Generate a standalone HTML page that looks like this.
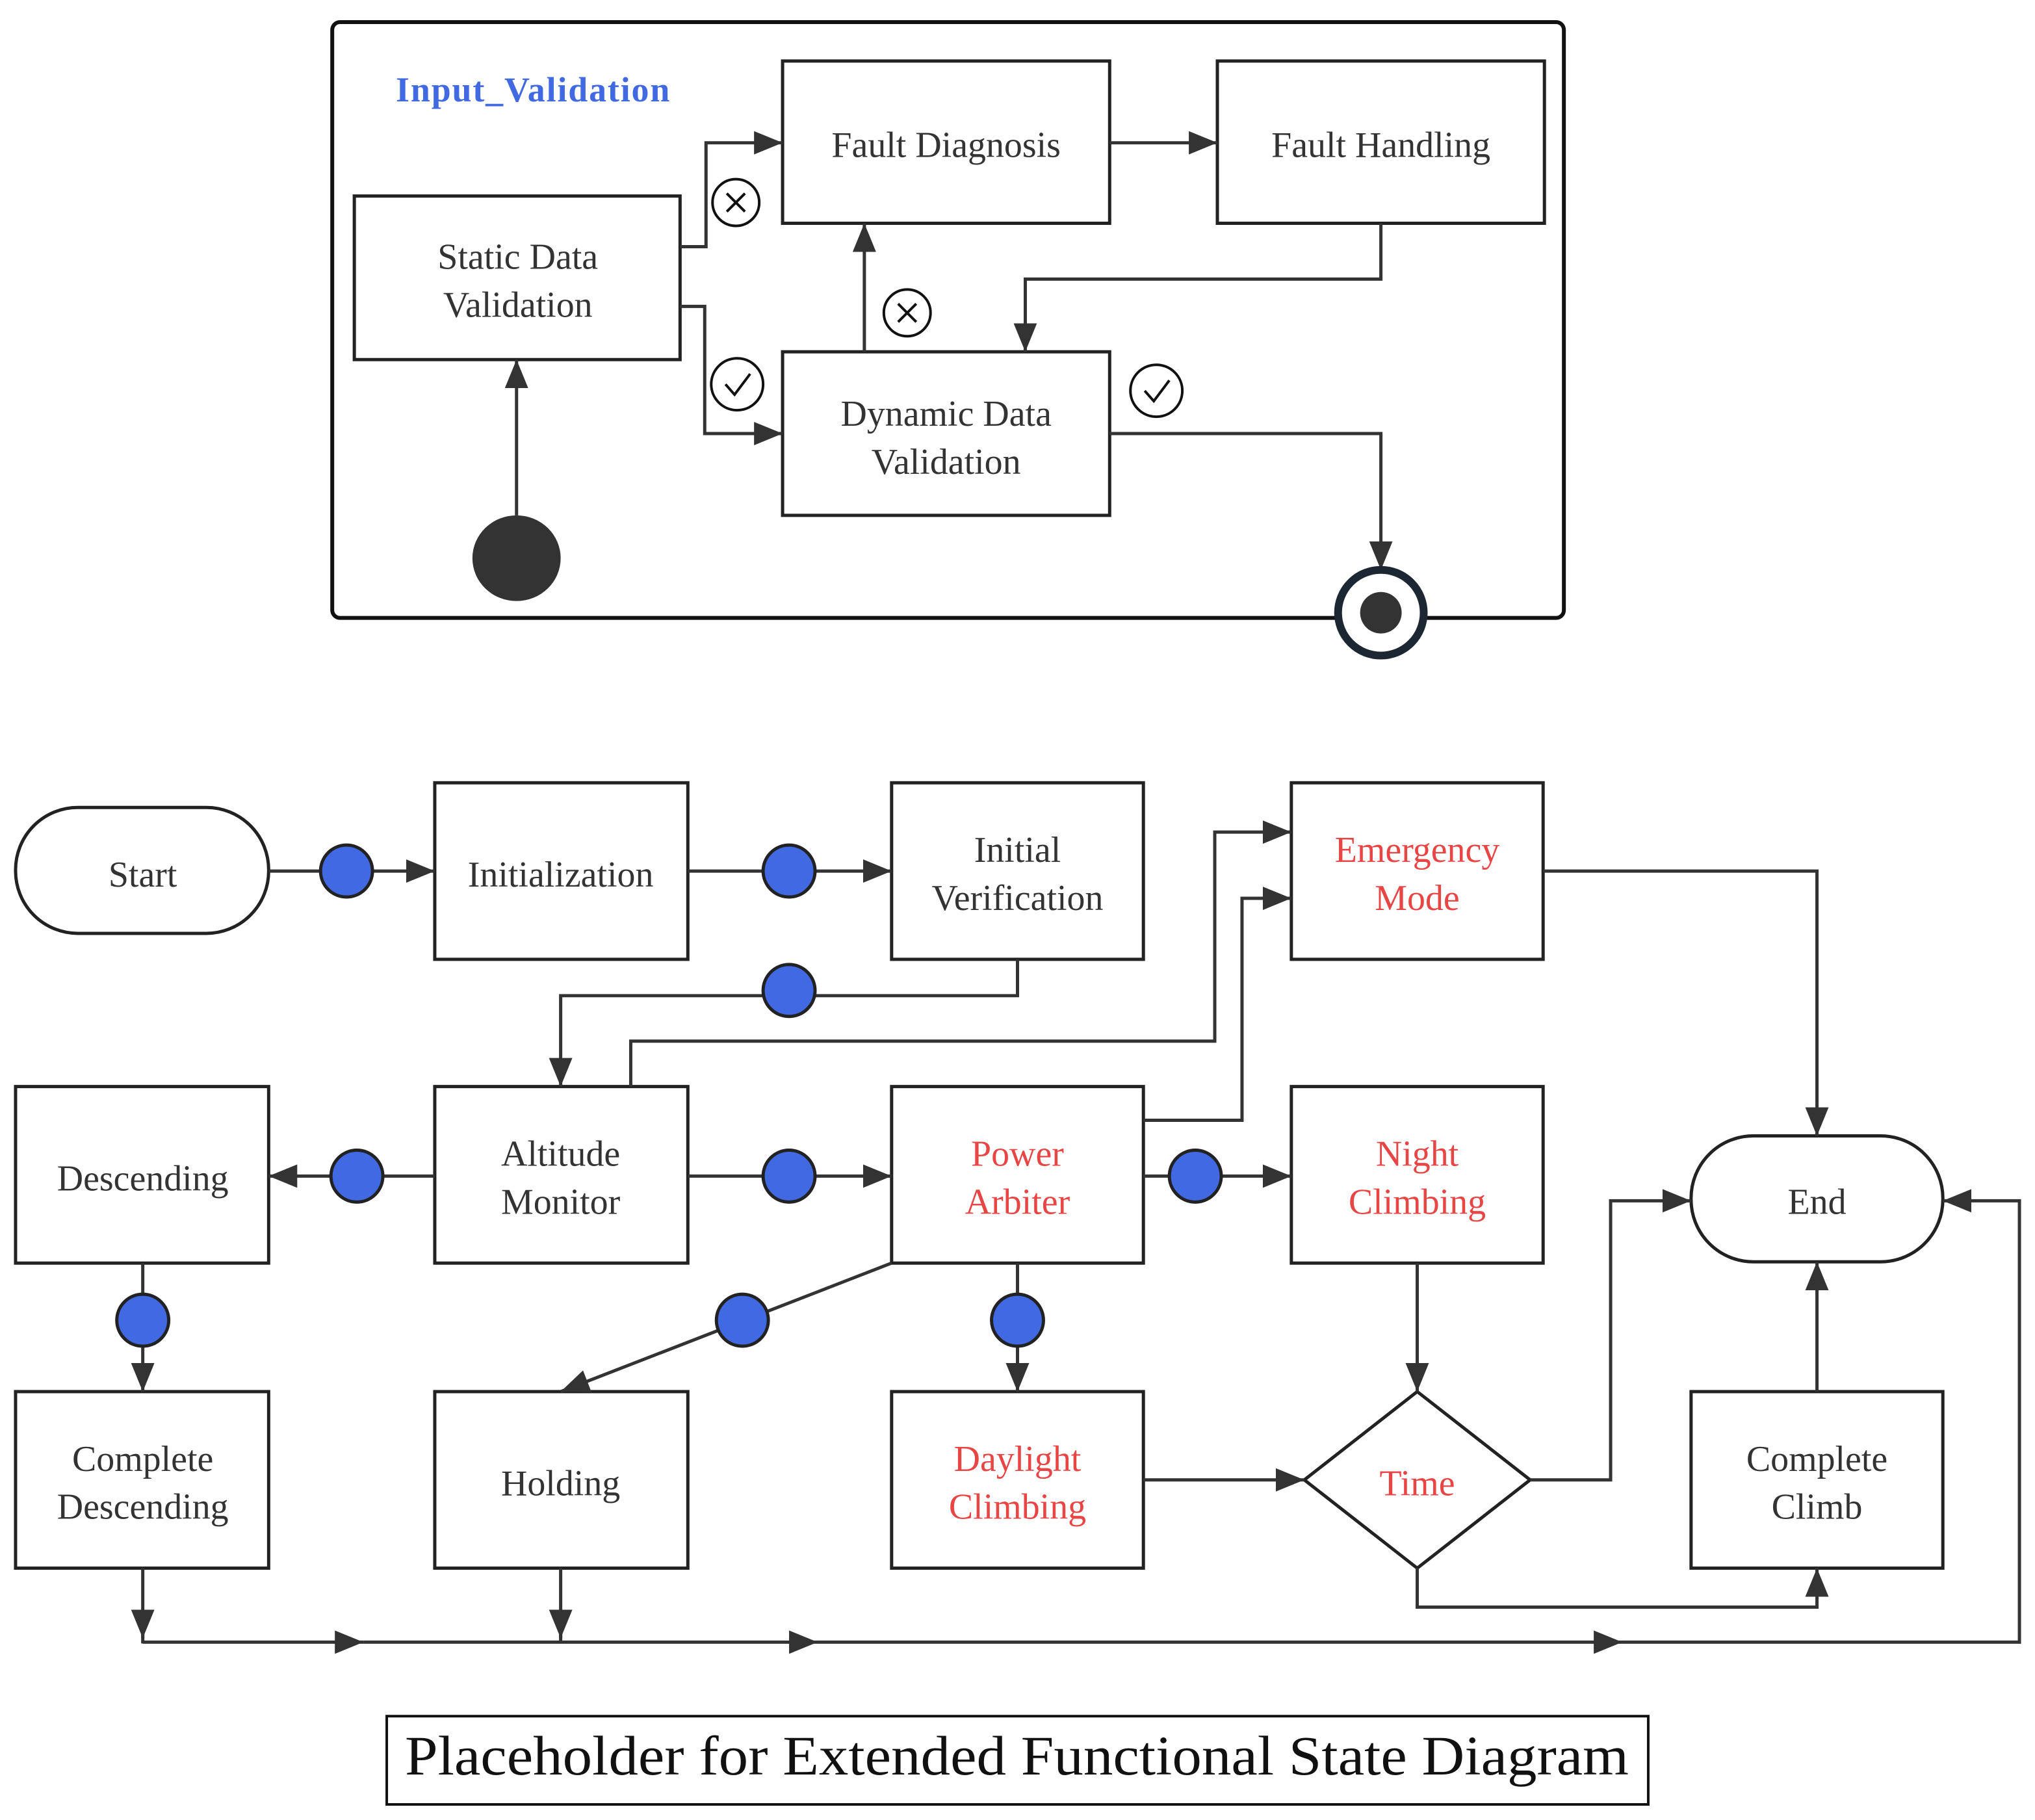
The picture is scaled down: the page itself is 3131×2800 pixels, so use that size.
<!DOCTYPE html>
<html><head><meta charset="utf-8"><style>
html,body{margin:0;padding:0;background:#fff}
svg{display:block}
</style></head><body>
<svg width="3131" height="2800" viewBox="0 0 1568 1402" preserveAspectRatio="none" xmlns="http://www.w3.org/2000/svg" font-family="Liberation Serif, DejaVu Serif, serif">
<defs>
<marker id="a" markerUnits="userSpaceOnUse" markerWidth="24" markerHeight="18" refX="22" refY="9" orient="auto">
<path d="M0,0 L22,9 L0,18 z" fill="#333"/>
</marker>
</defs>
<rect width="1568" height="1402" fill="#fff"/>
<rect x="256" y="17" width="949" height="459" rx="6" fill="none" stroke="#111" stroke-width="3"/>
<text x="305" y="78" font-size="27" font-weight="bold" fill="#4169E1" textLength="211">Input_Validation</text>
<g fill="#fff" stroke="#222" stroke-width="2.5">
<rect x="603" y="47" width="252" height="125"/>
<rect x="938" y="47" width="252" height="125"/>
<rect x="273" y="151" width="251" height="126"/>
<rect x="603" y="271" width="252" height="126"/>
</g>
<g font-size="28" fill="#333" text-anchor="middle">
<text x="729" y="121">Fault Diagnosis</text>
<text x="1064" y="121">Fault Handling</text>
<text x="399" y="207">Static Data</text><text x="399" y="244">Validation</text>
<text x="729" y="328">Dynamic Data</text><text x="729" y="365">Validation</text>
</g>
<g fill="none" stroke="#333" stroke-width="2.5">
<path d="M524,190 H544 V110 H603" marker-end="url(#a)"/>
<path d="M524,236 H543 V334 H603" marker-end="url(#a)"/>
<path d="M666,271 V172" marker-end="url(#a)"/>
<path d="M855,110 H938" marker-end="url(#a)"/>
<path d="M1064,172 V215 H790 V271" marker-end="url(#a)"/>
<path d="M855,334 H1064 V439" marker-end="url(#a)"/>
<path d="M398,397 V277" marker-end="url(#a)"/>
</g>
<g fill="#fff" stroke="#111" stroke-width="2">
<circle cx="567" cy="156" r="18"/><circle cx="568" cy="296" r="20"/>
<circle cx="699" cy="241" r="18"/><circle cx="891" cy="301" r="20"/>
</g>
<g fill="none" stroke="#111" stroke-width="2">
<path d="M560,149 L574,163 M574,149 L560,163"/>
<path d="M692,234 L706,248 M706,234 L692,248"/>
<path d="M559,296 L566,304 L578,288"/>
<path d="M882,301 L889,309 L901,293"/>
</g>
<ellipse cx="398" cy="430" rx="34" ry="33" fill="#333"/>
<circle cx="1064" cy="472" r="33" fill="#fff" stroke="#1c2733" stroke-width="6"/>
<circle cx="1064" cy="472" r="16" fill="#333"/>

<g fill="#fff" stroke="#222" stroke-width="2.5">
<rect x="12" y="622" width="195" height="97" rx="48"/>
<rect x="335" y="603" width="195" height="136"/>
<rect x="687" y="603" width="194" height="136"/>
<rect x="995" y="603" width="194" height="136"/>
<rect x="12" y="837" width="195" height="136"/>
<rect x="335" y="837" width="195" height="136"/>
<rect x="687" y="837" width="194" height="136"/>
<rect x="995" y="837" width="194" height="136"/>
<rect x="1303" y="875" width="194" height="97" rx="48"/>
<rect x="12" y="1072" width="195" height="136"/>
<rect x="335" y="1072" width="195" height="136"/>
<rect x="687" y="1072" width="194" height="136"/>
<rect x="1303" y="1072" width="194" height="136"/>
<path d="M1092,1072 L1179,1140 L1092,1208 L1005,1140 Z"/>
</g>
<g font-size="28" fill="#333" text-anchor="middle">
<text x="110" y="683">Start</text>
<text x="432" y="683">Initialization</text>
<text x="784" y="664">Initial</text><text x="784" y="701">Verification</text>
<text x="110" y="917">Descending</text>
<text x="432" y="898">Altitude</text><text x="432" y="935">Monitor</text>
<text x="1400" y="935">End</text>
<text x="110" y="1133">Complete</text><text x="110" y="1170">Descending</text>
<text x="432" y="1152">Holding</text>
<text x="1400" y="1133">Complete</text><text x="1400" y="1170">Climb</text>
</g>
<g font-size="28" fill="#e84545" text-anchor="middle">
<text x="1092" y="664">Emergency</text><text x="1092" y="701">Mode</text>
<text x="784" y="898">Power</text><text x="784" y="935">Arbiter</text>
<text x="1092" y="898">Night</text><text x="1092" y="935">Climbing</text>
<text x="784" y="1133">Daylight</text><text x="784" y="1170">Climbing</text>
<text x="1092" y="1152">Time</text>
</g>
<g fill="none" stroke="#333" stroke-width="2.5">
<path d="M207,671 H335" marker-end="url(#a)"/>
<path d="M530,671 H687" marker-end="url(#a)"/>
<path d="M784,739 V767 H432 V837" marker-end="url(#a)"/>
<path d="M486,837 V802 H936 V641 H995" marker-end="url(#a)"/>
<path d="M881,863 H957 V692 H995" marker-end="url(#a)"/>
<path d="M335,906 H207" marker-end="url(#a)"/>
<path d="M530,906 H687" marker-end="url(#a)"/>
<path d="M881,906 H995" marker-end="url(#a)"/>
<path d="M1189,671 H1400 V875" marker-end="url(#a)"/>
<path d="M110,973 V1072" marker-end="url(#a)"/>
<path d="M687,973 L432,1072" marker-end="url(#a)"/>
<path d="M784,973 V1072" marker-end="url(#a)"/>
<path d="M1092,973 V1072" marker-end="url(#a)"/>
<path d="M881,1140 H1005" marker-end="url(#a)"/>
<path d="M1179,1140 H1241 V925 H1303" marker-end="url(#a)"/>
<path d="M1092,1208 V1238 H1400 V1208" marker-end="url(#a)"/>
<path d="M1400,1072 V972" marker-end="url(#a)"/>
<path d="M110,1208 V1262" marker-end="url(#a)"/>
<path d="M432,1208 V1262" marker-end="url(#a)"/>
<path d="M110,1240 V1266 M432,1240 V1266"/>
<path d="M110,1265 H280" marker-end="url(#a)"/>
<path d="M280,1265 H630" marker-end="url(#a)"/>
<path d="M630,1265 H1250" marker-end="url(#a)"/>
<path d="M1250,1265 H1556 V925 H1497" marker-end="url(#a)"/>
</g>
<g fill="#4169E1" stroke="#222" stroke-width="2.5">
<circle cx="267" cy="671" r="20"/><circle cx="608" cy="671" r="20"/>
<circle cx="608" cy="763" r="20"/><circle cx="275" cy="906" r="20"/>
<circle cx="608" cy="906" r="20"/><circle cx="921" cy="906" r="20"/>
<circle cx="110" cy="1017" r="20"/><circle cx="572" cy="1017" r="20"/>
<circle cx="784" cy="1017" r="20"/>
</g>
<rect x="298" y="1322" width="972" height="68" fill="#fff" stroke="#111" stroke-width="2"/>
<text x="312" y="1367" font-size="43" fill="#111" textLength="943" lengthAdjust="spacingAndGlyphs">Placeholder for Extended Functional State Diagram</text>
</svg>
</body></html>
